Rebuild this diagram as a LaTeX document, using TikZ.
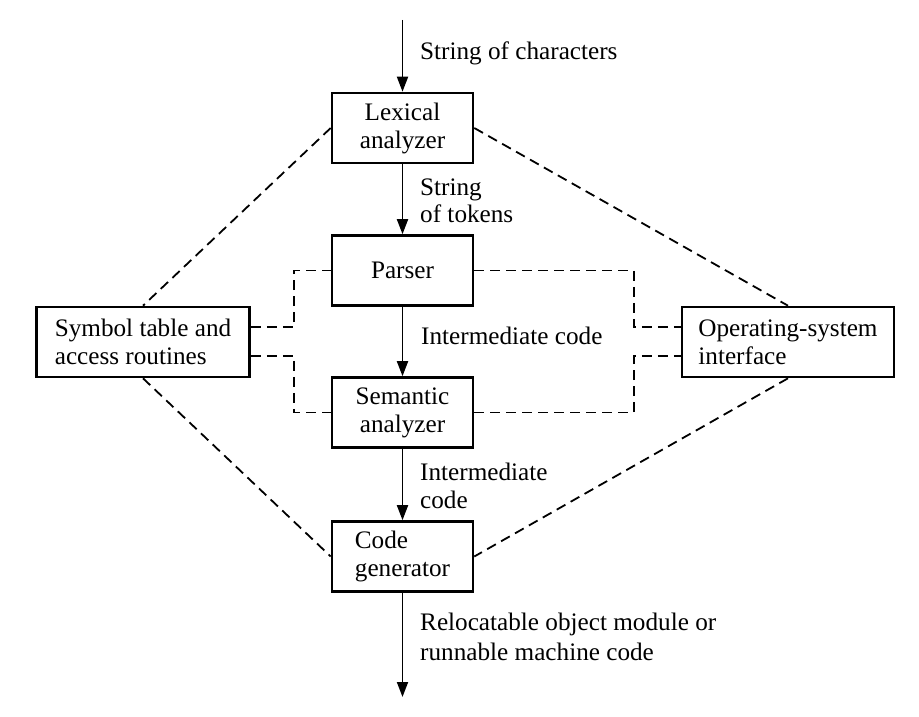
\documentclass[tikz,border=0pt]{standalone}
\usepackage{fontspec}
\setmainfont{Liberation Serif}
\usetikzlibrary{arrows.meta}
\begin{document}
\begin{tikzpicture}[x=1pt,y=-1pt,
  every node/.style={font=\fontsize{25.2}{28}\selectfont},
  box/.style={draw,line width=2.6pt,minimum width=141pt,minimum height=70pt,inner sep=0pt,align=center},
  sidebox/.style={draw,line width=2.6pt,minimum width=213pt,minimum height=70pt,inner sep=0pt,align=left},
  lbl/.style={anchor=base west,inner sep=0pt},
  flow/.style={line width=1.8pt,-{Triangle[length=15pt,width=11pt]}},
  dsh/.style={line width=1.8pt,dash pattern=on 10pt off 6pt}]
\useasboundingbox (0,0) rectangle (919,717);
\node[box] (lex) at (402.5,128) {Lexical\\analyzer};
\node[box] (par) at (402.5,270.5) {Parser};
\node[box] (sem) at (402.5,412.5) {Semantic\\analyzer};
\node[box,align=left] (gen) at (402.5,556.5) {Code\\generator};
\node[sidebox] (sym) at (143,342) {Symbol table and\\access routines};
\node[sidebox,minimum width=212pt] (os) at (788,342) {Operating-system\\interface};
\coordinate (top) at (402.5,20);
\coordinate (bot) at (402.5,697);
\draw[flow] (top) -- (lex.north);
\draw[flow] (lex.south) -- (par.north);
\draw[flow] (par.south) -- (sem.north);
\draw[flow] (sem.south) -- (gen.north);
\draw[flow] (gen.south) -- (bot);
\node[lbl] (l1) at (420,60) {String of characters};
\node[lbl] (l2a) at (420,195) {String};
\node[lbl] (l2b) at (420,222) {of tokens};
\node[lbl] (l3) at (421,344) {Intermediate code};
\node[lbl] (l4a) at (420,480) {Intermediate};
\node[lbl] (l4b) at (420,508) {code};
\node[lbl] (l5a) at (420,630) {Relocatable object module or};
\node[lbl] (l5b) at (420,660) {runnable machine code};
\draw[dsh] (lex.west) -- (sym.north);
\draw[dsh] (sym.south) -- (gen.west);
\draw[dsh] (lex.east) -- (os.north);
\draw[dsh] (os.south) -- (gen.east);
\draw[dsh] ([yshift=15pt]sym.east) -| (294,270.5) -- (par.west);
\draw[dsh] ([yshift=-14pt]sym.east) -| (294,412.5) -- (sem.west);
\draw[dsh] (par.east) -| (634,327) -- ([yshift=15pt]os.west);
\draw[dsh] (sem.east) -| (634,356) -- ([yshift=-14pt]os.west);
\end{tikzpicture}
\end{document}
